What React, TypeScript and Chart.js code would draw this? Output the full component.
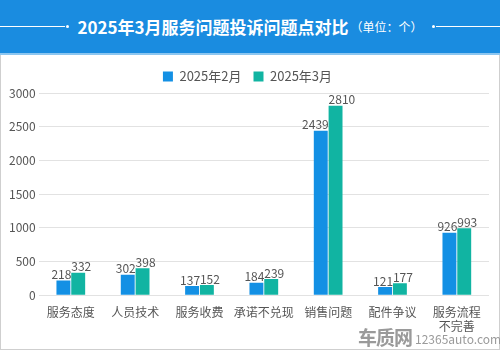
import React, { useEffect, useRef } from "react";
import { Chart, registerables } from "chart.js";

Chart.register(...registerables);

const categories: (string | string[])[] = ["服务态度", "人员技术", "服务收费", "承诺不兑现", "销售问题", "配件争议", ["服务流程", "不完善"]];
const seriesNames = ["2025年2月", "2025年3月"];
const feb = [218, 302, 137, 184, 2439, 121, 926];
const mar = [332, 398, 152, 239, 2810, 177, 993];
const yTicks = [0, 500, 1000, 1500, 2000, 2500, 3000];

const BLUE = "#1390E4";
const GREEN = "#11B4A2";
const FONT = "'Microsoft YaHei', 'Noto Sans CJK SC', sans-serif";

const labelPlugin = {
  id: "barLabels",
  afterDatasetsDraw(chart: any) {
    const ctx = chart.ctx;
    ctx.save();
    ctx.font = `12px ${FONT}`;
    ctx.fillStyle = "#555555";
    ctx.textBaseline = "bottom";
    chart.data.datasets.forEach((ds: any, i: number) => {
      const meta = chart.getDatasetMeta(i);
      meta.data.forEach((bar: any, j: number) => {
        if (i === 0) {
          ctx.textAlign = "right";
          ctx.fillText(String(ds.data[j]), bar.x + bar.width / 2 + 1, bar.y);
        } else {
          ctx.textAlign = "left";
          ctx.fillText(String(ds.data[j]), bar.x - bar.width / 2, bar.y);
        }
      });
    });
    ctx.restore();
  },
};

function BarChart() {
  const ref = useRef<HTMLCanvasElement>(null);
  useEffect(() => {
    if (!ref.current) return;
    const chart = new Chart(ref.current, {
      type: "bar",
      data: {
        labels: categories as any,
        datasets: [
          { label: seriesNames[0], data: feb, backgroundColor: BLUE, barPercentage: 0.94, categoryPercentage: 0.46 },
          { label: seriesNames[1], data: mar, backgroundColor: GREEN, barPercentage: 0.94, categoryPercentage: 0.46 },
        ],
      },
      options: {
        animation: false,
        responsive: false,
        maintainAspectRatio: false,
        layout: { padding: { left: 5, right: 10, top: 3, bottom: 13 } },
        plugins: {
          legend: {
            position: "top",
            labels: {
              boxWidth: 10,
              boxHeight: 10,
              padding: 12,
              color: "#555555",
              font: { size: 13, family: FONT },
            },
          },
          tooltip: { enabled: false },
        },
        scales: {
          x: {
            grid: { display: false },
            border: { display: false },
            ticks: { color: "#555555", font: { size: 12, family: FONT }, maxRotation: 0, autoSkip: false, padding: 2 },
          },
          y: {
            min: 0,
            max: 3000,
            afterBuildTicks: (axis: any) => {
              axis.ticks = yTicks.map((v) => ({ value: v }));
            },
            grid: { color: "#e2e2e2", drawTicks: false },
            border: { display: false },
            ticks: { color: "#555555", font: { size: 12, family: FONT }, padding: 3, callback: (v: any) => String(v) },
          },
        },
      },
      plugins: [labelPlugin],
    });
    return () => chart.destroy();
  }, []);
  return <canvas ref={ref} width={498} height={294} style={{ display: "block" }} />;
}

export default function App() {
  return (
    <div style={{ position: "absolute", left: 0, top: 0, width: 500, height: 350, background: "#ffffff", overflow: "hidden", fontFamily: FONT }}>
      <div style={{ position: "absolute", left: 0, top: 0, width: 500, height: 53, background: "#1A8CE0" }}>
        <div style={{ position: "absolute", left: 0, top: 26, width: 65, height: 1, background: "#ffffff" }} />
        <div style={{ position: "absolute", left: 66, top: 25, width: 3, height: 3, borderRadius: 2, background: "#ffffff" }} />
        <div style={{ position: "absolute", left: 432, top: 25, width: 3, height: 3, borderRadius: 2, background: "#ffffff" }} />
        <div style={{ position: "absolute", left: 436, top: 26, width: 64, height: 1, background: "#ffffff" }} />
        <div style={{ position: "absolute", left: 0, top: 0, width: 500, height: 53, display: "flex", alignItems: "center", justifyContent: "center", color: "#ffffff", whiteSpace: "nowrap" }}>
          <span style={{ fontSize: 17, fontWeight: "bold" }}>2025年3月服务问题投诉问题点对比</span>
          <span style={{ fontSize: 12, marginLeft: 2 }}>（单位：个）</span>
        </div>
      </div>
      <div style={{ position: "absolute", left: 0, top: 53, width: 500, height: 2, background: "#8cc6f0" }} />
      <div style={{ position: "absolute", left: 0, top: 55, width: 498, height: 294, borderLeft: "1px solid #cfcfcf", borderRight: "1px solid #cfcfcf", borderBottom: "1px solid #cfcfcf" }} />
      <div style={{ position: "absolute", left: 1, top: 55 }}>
        <BarChart />
      </div>
      <div style={{ position: "absolute", left: 358, top: 327, whiteSpace: "nowrap", color: "#9a9a9a", display: "flex", alignItems: "flex-end" }}>
        <span style={{ fontSize: 19, fontWeight: "bold", letterSpacing: -1, lineHeight: "20px" }}>车质网</span>
        <span style={{ fontSize: 12, marginLeft: 3, lineHeight: "16px" }}>12365auto.com</span>
      </div>
    </div>
  );
}
